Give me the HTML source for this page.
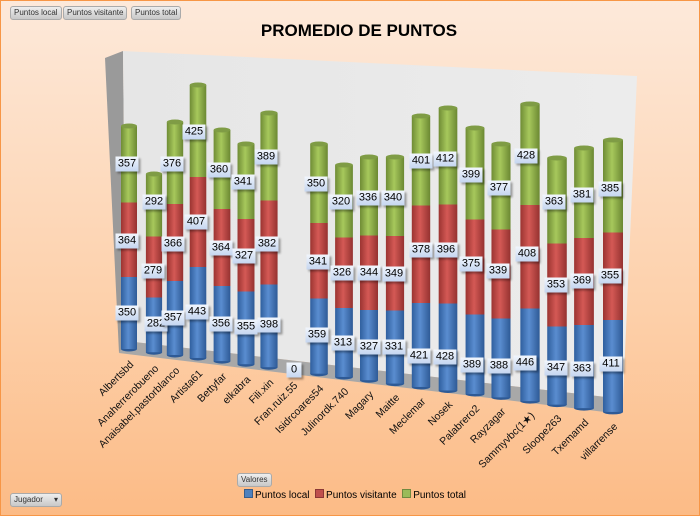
<!DOCTYPE html>
<html><head><meta charset="utf-8"><style>
body{margin:0;width:700px;height:516px;overflow:hidden;font-family:"Liberation Sans",sans-serif}
#c{position:absolute;left:0;top:0;width:698px;height:514px;border:1px solid #f79646;background:linear-gradient(#fde9da,#fdd0aa 60%,#fcbb86)}
.btn{position:absolute;height:12px;font-size:8px;line-height:12px;color:#333;background:linear-gradient(#eee,#c8c8c8);border:1px solid #aaa;border-radius:3px;padding:0 3px}
.lb{position:absolute;font-size:11px;height:15px;line-height:15px;width:23px;text-align:center;color:#000;background:linear-gradient(#f2f6fd,#c5d6f0);box-shadow:2px 2px 2px rgba(0,0,0,.35);transform:translate(-50%,-50%)}
.xl{position:absolute;font-size:10.5px;white-space:nowrap;transform-origin:100% 50%;transform:translate(-100%,-50%) rotate(-45deg);color:#111}
.lg{display:inline-block;width:7px;height:7px;margin-right:2px}
</style></head><body><div id="c">
<div class="btn" style="left:9px;top:5px">Puntos local</div>
<div class="btn" style="left:62px;top:5px">Puntos visitante</div>
<div class="btn" style="left:130px;top:5px">Puntos total</div>
<div style="position:absolute;left:0;width:716px;top:20px;text-align:center;font-weight:bold;font-size:17px">PROMEDIO DE PUNTOS</div>
<svg id="s" width="700" height="516" style="position:absolute;left:0;top:0">
<defs>
<linearGradient id="gb" x1="0" x2="1"><stop offset="0" stop-color="#2f5f9e"/><stop offset=".45" stop-color="#5a8dd0"/><stop offset="1" stop-color="#2e5a96"/></linearGradient>
<linearGradient id="gr" x1="0" x2="1"><stop offset="0" stop-color="#9b3431"/><stop offset=".45" stop-color="#d45955"/><stop offset="1" stop-color="#953230"/></linearGradient>
<linearGradient id="gg" x1="0" x2="1"><stop offset="0" stop-color="#6f8c35"/><stop offset=".45" stop-color="#a7c85c"/><stop offset="1" stop-color="#6b8832"/></linearGradient>
<linearGradient id="wall" x1="0" x2="1"><stop offset="0" stop-color="#e6e6e6"/><stop offset="1" stop-color="#ececec"/></linearGradient>
</defs>
<polygon points="104,57 122,50 125,340 118,352" fill="#9a9a9a"/>
<polygon points="122,50 636,75 622,398 125,340" fill="url(#wall)"/>
<polygon points="118,352 125,340 622,398 612,412" fill="#a8a8a8"/>
</svg>
<div class="lb" style="left:126px;top:163px">357</div><div class="lb" style="left:126px;top:240px">364</div><div class="lb" style="left:126px;top:312px">350</div>
<div class="lb" style="left:153px;top:201px">292</div><div class="lb" style="left:152px;top:270px">279</div><div class="lb" style="left:155px;top:323px">282</div>
<div class="lb" style="left:171px;top:163px">376</div><div class="lb" style="left:172px;top:243px">366</div><div class="lb" style="left:172px;top:317px">357</div>
<div class="lb" style="left:193px;top:131px">425</div><div class="lb" style="left:195px;top:221px">407</div><div class="lb" style="left:196px;top:311px">443</div>
<div class="lb" style="left:218px;top:169px">360</div><div class="lb" style="left:220px;top:247px">364</div><div class="lb" style="left:220px;top:323px">356</div>
<div class="lb" style="left:242px;top:181px">341</div><div class="lb" style="left:243px;top:255px">327</div><div class="lb" style="left:245px;top:326px">355</div>
<div class="lb" style="left:265px;top:156px">389</div><div class="lb" style="left:266px;top:243px">382</div><div class="lb" style="left:268px;top:324px">398</div>
<div class="lb" style="left:293px;top:369px;width:15px">0</div>
<div class="lb" style="left:315px;top:183px">350</div><div class="lb" style="left:317px;top:261px">341</div><div class="lb" style="left:316px;top:334px">359</div>
<div class="lb" style="left:340px;top:201px">320</div><div class="lb" style="left:341px;top:272px">326</div><div class="lb" style="left:342px;top:342px">313</div>
<div class="lb" style="left:367px;top:197px">336</div><div class="lb" style="left:368px;top:272px">344</div><div class="lb" style="left:368px;top:346px">327</div>
<div class="lb" style="left:392px;top:197px">340</div><div class="lb" style="left:393px;top:273px">349</div><div class="lb" style="left:393px;top:346px">331</div>
<div class="lb" style="left:420px;top:160px">401</div><div class="lb" style="left:420px;top:249px">378</div><div class="lb" style="left:418px;top:355px">421</div>
<div class="lb" style="left:444px;top:158px">412</div><div class="lb" style="left:445px;top:249px">396</div><div class="lb" style="left:444px;top:356px">428</div>
<div class="lb" style="left:470px;top:174px">399</div><div class="lb" style="left:470px;top:263px">375</div><div class="lb" style="left:471px;top:364px">389</div>
<div class="lb" style="left:498px;top:187px">377</div><div class="lb" style="left:497px;top:270px">339</div><div class="lb" style="left:498px;top:365px">388</div>
<div class="lb" style="left:525px;top:155px">428</div><div class="lb" style="left:526px;top:253px">408</div><div class="lb" style="left:524px;top:362px">446</div>
<div class="lb" style="left:553px;top:201px">363</div><div class="lb" style="left:555px;top:284px">353</div><div class="lb" style="left:555px;top:367px">347</div>
<div class="lb" style="left:581px;top:194px">381</div><div class="lb" style="left:581px;top:280px">369</div><div class="lb" style="left:581px;top:368px">363</div>
<div class="lb" style="left:609px;top:188px">385</div><div class="lb" style="left:609px;top:275px">355</div><div class="lb" style="left:610px;top:363px">411</div>
<div class="xl" style="left:131px;top:362px">Albertsbd</div>
<div class="xl" style="left:156px;top:366px">Anaherrerobueno</div>
<div class="xl" style="left:177px;top:368px">Anaisabel.pastorblanco</div>
<div class="xl" style="left:200px;top:371px">Artista61</div>
<div class="xl" style="left:224px;top:374px">Bettyfar</div>
<div class="xl" style="left:248px;top:377px">elkabra</div>
<div class="xl" style="left:271px;top:380px">Fili.xin</div>
<div class="xl" style="left:295px;top:383px">Fran.ruiz.55</div>
<div class="xl" style="left:321px;top:386px">Isidrcoares54</div>
<div class="xl" style="left:346px;top:389px">Julinordk.740</div>
<div class="xl" style="left:371px;top:392px">Magary</div>
<div class="xl" style="left:397px;top:395px">Maitte</div>
<div class="xl" style="left:423px;top:399px">Meclemar</div>
<div class="xl" style="left:450px;top:402px">Nosek</div>
<div class="xl" style="left:477px;top:406px">Palabrero2</div>
<div class="xl" style="left:503px;top:409px">Rayzagar</div>
<div class="xl" style="left:532px;top:413px">Sammyvbc(1★)</div>
<div class="xl" style="left:559px;top:416px">Sloope263</div>
<div class="xl" style="left:586px;top:420px">Txemamd</div>
<div class="xl" style="left:615px;top:424px">villarrense</div>
<div class="btn" style="left:236px;top:472px">Valores</div>
<div style="position:absolute;left:243px;top:488px;font-size:10px;line-height:12px;white-space:nowrap">
<span class="lg" style="background:#4f81bd;border:1px solid #385d8a"></span>Puntos local&nbsp;
<span class="lg" style="background:#c0504d;border:1px solid #8c3836"></span>Puntos visitante&nbsp;
<span class="lg" style="background:#9bbb59;border:1px solid #71893f"></span>Puntos total</div>
<div class="btn" style="left:9px;top:492px;width:44px">Jugador <span style="float:right">▾</span></div>
</div>
<script>
var B=[[128,125,163,240,312],[153,173,201,270,323],[174,121,163,243,317],[197,84,131,221,311],[221,129,169,247,323],[245,143,181,255,326],[268,112,156,243,324],[318,143,183,261,334],[343,164,201,272,342],[368,156,197,272,346],[394,156,197,273,346],[420,115,160,249,355],[447,107,158,249,356],[474,127,174,263,364],[500,143,187,270,365],[529,103,155,253,362],[556,157,201,284,367],[583,147,194,280,368],[612,139,188,275,363]];
var s=document.getElementById('s'),h='';
B.forEach(function(b){var x=b[0],bot=348+0.13*(x-128),w=16+(x-128)/484*4,l=x-w/2,r=w/2,e=2.5;
var y1=(b[2]+b[3])/2,y2=(b[3]+b[4])/2;
h+='<ellipse cx="'+x+'" cy="'+bot+'" rx="'+r+'" ry="'+e+'" fill="#2e5a96"/>';
h+='<rect x="'+l+'" y="'+y2+'" width="'+w+'" height="'+(bot-y2)+'" fill="url(#gb)"/>';
h+='<rect x="'+l+'" y="'+y1+'" width="'+w+'" height="'+(y2-y1)+'" fill="url(#gr)"/>';
h+='<rect x="'+l+'" y="'+b[1]+'" width="'+w+'" height="'+(y1-b[1])+'" fill="url(#gg)"/>';
h+='<ellipse cx="'+x+'" cy="'+b[1]+'" rx="'+r+'" ry="'+e+'" fill="#7f9c45"/>';});
s.insertAdjacentHTML('beforeend',h);
</script>
</body></html>
